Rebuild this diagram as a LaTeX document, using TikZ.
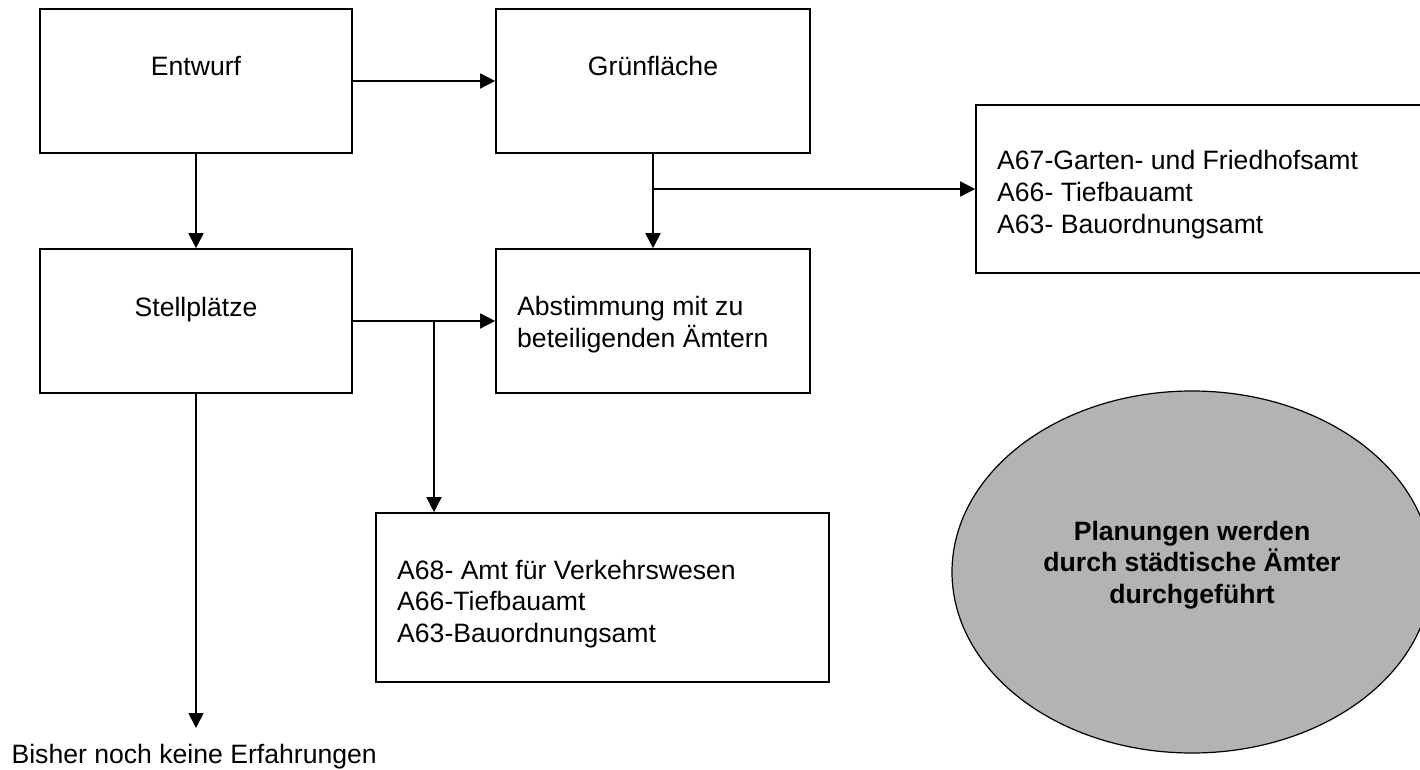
\documentclass[tikz,border=0pt]{standalone}
\usepackage{fontspec}
\setmainfont{Liberation Sans}
\usetikzlibrary{arrows.meta,shapes.geometric}
\definecolor{ellgray}{RGB}{179,179,179}
\tikzset{
  box/.style={draw, line width=1.6pt, rectangle, inner sep=0pt},
  lbl/.style={font=\fontsize{26.6pt}{31.5pt}\selectfont, inner sep=0pt},
  conn/.style={line width=1.5pt, -{Triangle[length=15pt,width=15pt]}},
}
\begin{document}
\begin{tikzpicture}[x=1pt,y=-1pt]
\useasboundingbox (0,0) rectangle (1420,770);
\clip (0,0) rectangle (1420,770);
% boxes
\node[box, minimum width=312pt, minimum height=144pt] (e) at (196,81) {};
\node[lbl, anchor=base] (et) at (196,76) {Entwurf};
\node[box, minimum width=314pt, minimum height=144pt] (g) at (653,81) {};
\node[lbl, anchor=base] (gt) at (653,76) {Grünfläche};
\node[box, minimum width=460pt, minimum height=168pt] (a67) at (1206,189) {};
\node[lbl, anchor=base west, align=left] (a67t) at (997,233)
  {A67-Garten- und Friedhofsamt\\A66- Tiefbauamt\\A63- Bauordnungsamt};
\node[box, minimum width=312pt, minimum height=144pt] (s) at (196,321) {};
\node[lbl, anchor=base] (st) at (196,316) {Stellplätze};
\node[box, minimum width=314pt, minimum height=144pt] (ab) at (653,321) {};
\node[lbl, anchor=base west, align=left] (abt) at (517,347)
  {Abstimmung mit zu\\beteiligenden Ämtern};
\node[box, minimum width=453pt, minimum height=169pt] (a68) at (602.5,597.5) {};
\node[lbl, anchor=base west, align=left] (a68t) at (397,642)
  {A68- Amt für Verkehrswesen\\A66-Tiefbauamt\\A63-Bauordnungsamt};
% ellipse
\node[ellipse, draw, line width=1.2pt, fill=ellgray, minimum width=480pt, minimum height=362pt, inner sep=0pt] (ell) at (1192,572) {};
\node[lbl, font=\fontsize{26.6pt}{31.5pt}\selectfont\bfseries, anchor=base, align=center] (ellt) at (1192,603)
  {Planungen werden\\durch städtische Ämter\\durchgeführt};
% bottom text
\coordinate (b3) at (196,728);
\node[lbl, anchor=base east] (bt) at (377,763) {Bisher noch keine Erfahrungen};
% connectors
\draw[conn] (e.east) -- (g.west);
\draw[conn] (e.south) -- (s.north);
\draw[conn] (g.south) -- (ab.north);
\coordinate (b1) at (653,189);
\draw[conn] (b1) -- (a67.west);
\draw[conn] (s.east) -- (ab.west);
\coordinate (b2) at (434,321);
\draw[conn] (b2) -- (b2 |- a68.north);
\draw[conn] (s.south) -- (b3);
\end{tikzpicture}
\end{document}
